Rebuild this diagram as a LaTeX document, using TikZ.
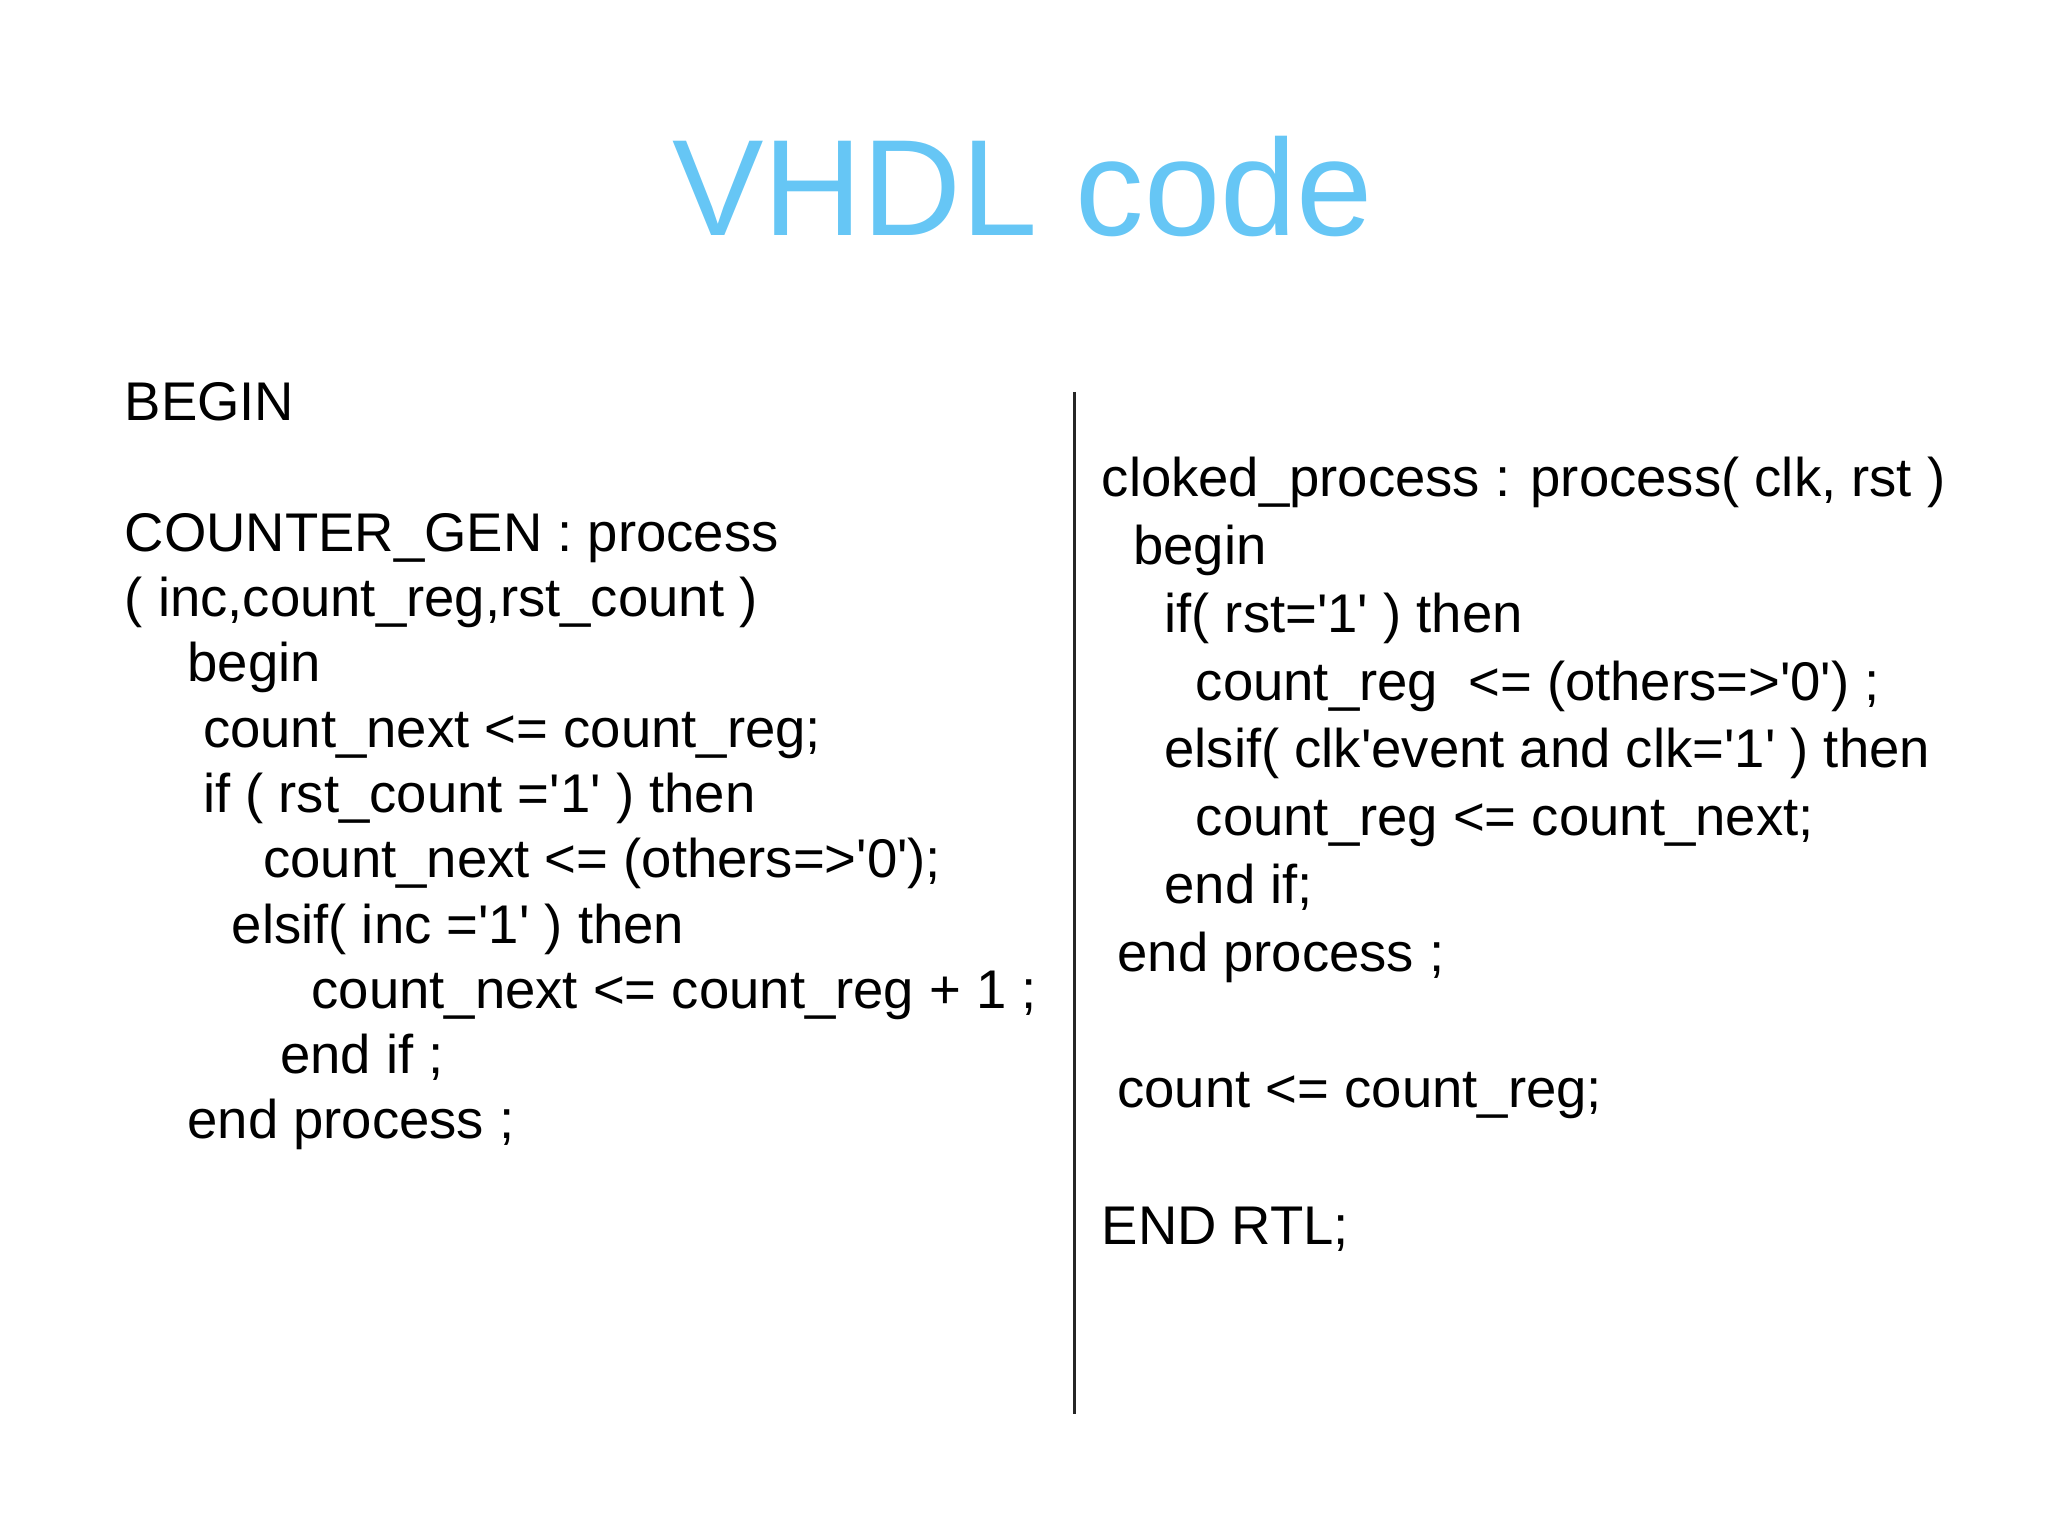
\documentclass[tikz,border=0pt]{standalone}
\usepackage{fontspec}
\setmainfont{Liberation Sans}
\newcommand{\q}{\textquotesingle}
\definecolor{ttl}{RGB}{102,198,245}
\begin{document}
\begin{tikzpicture}[x=1cm,y=1cm,
  ln/.style={anchor=base west,inner sep=0pt,font=\fontsize{15.5pt}{18pt}\selectfont}]
\useasboundingbox (0,0) rectangle (20.48,15.36);
\newcommand{\PP}[2]{({#1*0.01306},{15.36-#2*0.01306})}
\node[anchor=base,inner sep=0pt,text=ttl,font=\fontsize{39pt}{44pt}\selectfont] (title) at \PP{783}{180} {VHDL code};
% left
\node[ln] (l1) at \PP{95}{322} {BEGIN};
\node[ln] (l2) at \PP{95}{422} {COUNTER\_GEN : process};
\node[ln] (l3) at \PP{95}{472} {( inc,count\_reg,rst\_count )};
\node[ln] (l4) at \PP{143}{522} {begin};
\node[ln] (l5) at \PP{155}{572} {count\_next <= count\_reg;};
\node[ln] (l6) at \PP{155}{622} {if ( rst\_count =\q1\q\ ) then};
\node[ln] (l7) at \PP{201}{672} {count\_next <= (others=>\q0\q);};
\node[ln] (l8) at \PP{177}{722} {elsif( inc =\q1\q\ ) then};
\node[ln] (l9) at \PP{238}{772} {count\_next <= count\_reg + 1 ;};
\node[ln] (l10) at \PP{214}{822} {end if ;};
\node[ln] (l11) at \PP{143}{872} {end process ;};
% right
\node[ln] (r1) at \PP{843}{380} {cloked\_process : process( clk, rst )};
\node[ln] (r2) at \PP{867}{432} {begin};
\node[ln] (r3) at \PP{891}{484} {if( rst=\q1\q\ ) then};
\node[ln] (r4) at \PP{915}{536} {count\_reg\ \ <= (others=>\q0\q) ;};
\node[ln] (r5) at \PP{891}{588} {elsif( clk\q event and clk=\q1\q\ ) then};
\node[ln] (r6) at \PP{915}{640} {count\_reg <= count\_next;};
\node[ln] (r7) at \PP{891}{692} {end if;};
\node[ln] (r8) at \PP{855}{744} {end process ;};
\node[ln] (r9) at \PP{855}{848} {count <= count\_reg;};
\node[ln] (r10) at \PP{843}{953} {END RTL;};
\coordinate (dt) at (10.748,11.442);
\coordinate (db) at (10.748,1.216);
\draw[line width=0.8pt,black!85] (dt) -- (db);
\end{tikzpicture}
\end{document}
